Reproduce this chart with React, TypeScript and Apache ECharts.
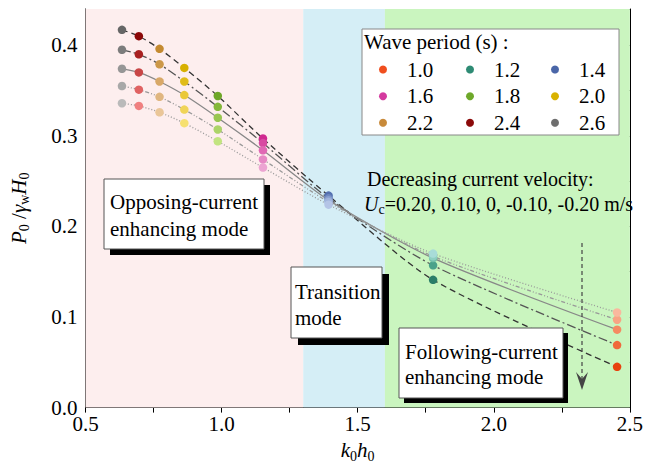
import React, { useEffect, useRef } from "react";
import * as echarts from "echarts";

const periods = ["1.0", "1.2", "1.4", "1.6", "1.8", "2.0", "2.2", "2.4", "2.6"];
const kh = [2.453, 1.777, 1.393, 1.152, 0.986, 0.863, 0.772, 0.696, 0.634];
const ucLabels = ["-0.20", "-0.10", "0", "0.10", "0.20"];
// values per period, ordered Uc = -0.20, -0.10, 0, 0.10, 0.20
const p10 = [0.045, 0.069, 0.086, 0.097, 0.105];
const p12 = [0.141, 0.157, 0.165, 0.167, 0.17];
const p14 = [0.234, 0.231, 0.229, 0.227, 0.224];
const p16 = [0.297, 0.292, 0.284, 0.274, 0.265];
const p18 = [0.344, 0.332, 0.32, 0.307, 0.294];
const p20 = [0.375, 0.36, 0.345, 0.329, 0.314];
const p22 = [0.396, 0.379, 0.36, 0.343, 0.326];
const p24 = [0.41, 0.39, 0.37, 0.351, 0.333];
const p26 = [0.417, 0.395, 0.374, 0.355, 0.336];
const values = [p10, p12, p14, p16, p18, p20, p22, p24, p26];

const baseColors = ["#f04e1e", "#2e8b74", "#4a66a8", "#d43a9f", "#6ea82a", "#d9b200", "#c88a3a", "#8b0a0a", "#6e6e6e"];
const shades = [
  ["#e8420e", "#f0683c", "#f58a62", "#f8a484", "#fab89e"],
  ["#2a7d68", "#4aa28a", "#72bfa8", "#8fd0c2", "#a8dcd8"],
  ["#5470b0", "#6e88c0", "#8aa0d0", "#a0b4dc", "#b4c4e6"],
  ["#d02890", "#d84aa2", "#e068b4", "#e688c4", "#eca4d2"],
  ["#6ea628", "#84b83a", "#98c650", "#acd468", "#c2e480"],
  ["#d8b000", "#e0bc18", "#eac838", "#f0d458", "#f6e070"],
  ["#c48a30", "#cc9848", "#d8a868", "#e0b680", "#eac698"],
  ["#8b0808", "#a82020", "#c84646", "#e06262", "#f08080"],
  ["#666666", "#7c7c7c", "#969696", "#a8a8a8", "#bababa"],
];

const lineColors = ["#333333", "#555555", "#888888", "#999999", "#999999"];
const lineDash: any[] = [[6, 4], [9, 3, 2, 3], "solid", [4, 2, 1, 2, 1, 2], [1, 2]];

const regions = [
  { from: 0.5, to: 1.3, color: "#fdeeee" },
  { from: 1.3, to: 1.6, color: "#d5eef6" },
  { from: 1.6, to: 2.5, color: "#caf5bf" },
];

const FONT = "Liberation Serif, serif";

export default function App() {
  const ref = useRef<HTMLDivElement>(null);
  useEffect(() => {
    const chart = echarts.init(ref.current!, null, { renderer: "svg" });

    const order = kh.map((_, i) => i).sort((a, b) => kh[a] - kh[b]);
    const lineSeries = ucLabels.map((u, j) => ({
      type: "line",
      name: "Uc=" + u,
      data: order.map((i) => [kh[i], values[i][j]]),
      smooth: 0.25,
      showSymbol: false,
      symbol: "none",
      silent: true,
      z: 3,
      lineStyle: { color: lineColors[j], width: 1.3, type: lineDash[j] },
    }));

    const scatterSeries = periods.map((p, i) => ({
      type: "scatter",
      name: p,
      symbolSize: 8.5,
      z: 5,
      itemStyle: { color: baseColors[i], opacity: 1 },
      data: values[i].map((v, j) => ({
        value: [kh[i], v],
        itemStyle: { color: shades[i][j] },
      })),
    }));

    const bgSeries = {
      type: "scatter",
      name: "bg",
      data: [],
      z: 1,
      silent: true,
      markArea: {
        silent: true,
        data: regions.map((r) => [
          { xAxis: r.from, itemStyle: { color: r.color } },
          { xAxis: r.to },
        ]),
      },
    };

    const colCenters = [383, 470, 555];
    const rowCenters = [70, 96.7, 123.3];
    const legends = periods.map((p, k) => ({
      data: [p],
      left: colCenters[k % 3] - 4,
      top: rowCenters[Math.floor(k / 3)] - 11,
      orient: "horizontal",
      icon: "circle",
      itemWidth: 8,
      itemHeight: 8,
      padding: 0,
      selectedMode: false,
      z: 10,
      textStyle: { fontFamily: FONT, fontSize: 21, color: "#000", padding: [0, 0, 0, 15] },
    }));

    const fmt = (step: number) => (v: number) => {
      const r = v / step;
      return Math.abs(r - Math.round(r)) < 1e-6 ? v.toFixed(1) : "";
    };

    const axisCommon = {
      axisLine: { show: true, lineStyle: { color: "#000", width: 1 } },
      axisTick: { show: true, inside: true, length: 5, lineStyle: { color: "#000" } },
      splitLine: { show: false },
    };

    const rich = {
      i: { fontFamily: FONT, fontSize: 21, fontStyle: "italic", color: "#000", lineHeight: 26 },
      n: { fontFamily: FONT, fontSize: 21, color: "#000", lineHeight: 26 },
      s: { fontFamily: FONT, fontSize: 14, color: "#000", lineHeight: 26, verticalAlign: "bottom" },
    };
    const rich20 = {
      i: { fontFamily: FONT, fontSize: 20, fontStyle: "italic", color: "#000", lineHeight: 25 },
      n: { fontFamily: FONT, fontSize: 20, color: "#000", lineHeight: 25 },
      s: { fontFamily: FONT, fontSize: 14, color: "#000", lineHeight: 25, verticalAlign: "bottom" },
    };

    const shadowBox = (x: number, y: number, w: number, h: number, off: number) => [
      { type: "rect", shape: { x: x + off, y: y + off, width: w, height: h }, style: { fill: "#000" }, z: 20, silent: true },
      { type: "rect", shape: { x, y, width: w, height: h }, style: { fill: "#fff", stroke: "#555", lineWidth: 1 }, z: 21, silent: true },
    ];
    const txt = (x: number, y: number, s: string, size = 21) => ({
      type: "text",
      x,
      y,
      z: 22,
      silent: true,
      style: { text: s, fontFamily: FONT, fontSize: size, fill: "#000", verticalAlign: "middle" },
    });

    chart.setOption({
      animation: false,
      grid: { left: 81, right: 14, top: 9, bottom: 60 },
      xAxis: [
        {
          type: "value",
          min: 0.5,
          max: 2.5,
          interval: 0.25,
          ...axisCommon,
          axisLabel: { formatter: fmt(0.5), fontFamily: FONT, fontSize: 21, color: "#000", margin: 6 },
          name: "{i|k}{s|0}{i|h}{s|0}",
          nameLocation: "middle",
          nameGap: 21,
          nameTextStyle: { rich },
        },
        {
          type: "value",
          position: "top",
          min: 0.5,
          max: 2.5,
          interval: 0.25,
          ...axisCommon,
          axisLabel: { show: false },
        },
      ],
      yAxis: [
        {
          type: "value",
          min: 0,
          max: 0.44,
          interval: 0.05,
          ...axisCommon,
          axisLabel: { formatter: fmt(0.1), showMaxLabel: false, fontFamily: FONT, fontSize: 21, color: "#000", margin: 8 },
          name: "{i|P}{s|0}{n| /}{i|γ}{s|w}{i|H}{s|0}",
          nameLocation: "middle",
          nameGap: 54,
          nameTextStyle: { rich },
        },
        {
          type: "value",
          position: "right",
          min: 0,
          max: 0.44,
          interval: 0.05,
          ...axisCommon,
          axisLabel: { show: false },
        },
      ],
      legend: legends,
      series: [bgSeries, ...lineSeries, ...scatterSeries],
      graphic: [
        { type: "rect", shape: { x: 362, y: 29, width: 257, height: 106 }, style: { fill: "#fff", stroke: "#888", lineWidth: 1 }, z: 5, silent: true },
        txt(364, 42, "Wave period (s) :"),
        ...shadowBox(104, 179, 160, 70, 6),
        txt(110, 202, "Opposing-current"),
        txt(110, 229, "enhancing mode"),
        ...shadowBox(291, 267, 91, 71, 7),
        txt(295, 292, "Transition"),
        txt(295, 318, "mode"),
        ...shadowBox(399, 328, 164, 70, 5),
        txt(405, 352, "Following-current"),
        txt(405, 377, "enhancing mode"),
        txt(367, 179, "Decreasing current velocity:", 20),
        {
          type: "text",
          x: 364,
          y: 204,
          z: 22,
          silent: true,
          style: {
            text: "{i|U}{s|c}{n|=0.20, 0.10, 0, -0.10, -0.20 m/s}",
            rich: rich20,
            verticalAlign: "middle",
          },
        },
        { type: "line", shape: { x1: 582, y1: 243, x2: 582, y2: 384 }, style: { stroke: "#444", lineWidth: 1.2, lineDash: [4, 3] }, z: 22, silent: true },
        { type: "polygon", shape: { points: [[576, 372], [582, 390], [588, 372], [582, 379]] }, style: { fill: "#444" }, z: 22, silent: true },
      ],
    });
    return () => chart.dispose();
  }, []);
  return <div ref={ref} style={{ position: "absolute", left: 0, top: 0, width: 646, height: 468 }} />;
}
